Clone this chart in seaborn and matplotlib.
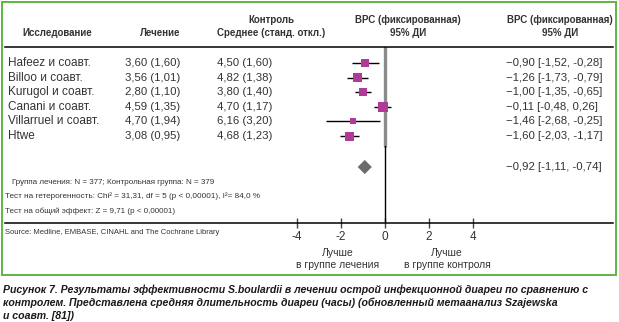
import numpy as np
import pandas as pd
import matplotlib
matplotlib.use("Agg")
import matplotlib.pyplot as plt
from matplotlib import font_manager
from matplotlib.patches import Rectangle
import seaborn as sns

# ---- data ----
studies = ["Hafeez и соавт.", "Billoo и соавт.", "Kurugol и соавт.",
           "Canani и соавт.", "Villarruel и соавт.", "Htwe"]
treatment = ["3,60 (1,60)", "3,56 (1,01)", "2,80 (1,10)", "4,59 (1,35)", "4,70 (1,94)", "3,08 (0,95)"]
control = ["4,50 (1,60)", "4,82 (1,38)", "3,80 (1,40)", "4,70 (1,17)", "6,16 (3,20)", "4,68 (1,23)"]
md = [-0.90, -1.26, -1.00, -0.11, -1.46, -1.60]
ci_lo = [-1.52, -1.73, -1.35, -0.48, -2.68, -2.03]
ci_hi = [-0.28, -0.79, -0.65, 0.26, -0.25, -1.17]
ci_text = ["\u22120,90 [-1,52, -0,28]", "\u22121,26 [-1,73, -0,79]", "\u22121,00 [-1,35, -0,65]",
           "\u22120,11 [-0,48, 0,26]", "\u22121,46 [-2,68, -0,25]", "\u22121,60 [-2,03, -1,17]"]
pooled_md = -0.92
pooled_lo = -1.11
pooled_hi = -0.74
pooled_text = "\u22120,92 [-1,11, -0,74]"
xticks = [-4, -2, 0, 2, 4]
xtick_labels = ["-4", "-2", "0", "2", "4"]

# ---- style ----
sns.set_style("white")
plt.rcParams["font.family"] = ["Liberation Sans", "DejaVu Sans"]
TXT = "#333333"
MAG = "#b03a98"
marker_px = [8, 9, 8, 10, 6, 9]

W, H = 619, 322
fig = plt.figure(figsize=(W / 100, H / 100), dpi=100)
fig.patch.set_facecolor("white")

def T(x, y, s, **kw):
    kw.setdefault("color", TXT)
    kw.setdefault("va", "center")
    kw.setdefault("fontsize", 8.2)
    return fig.text(x / W, 1 - y / H, s, **kw)

# forest axes
px0 = 385.0   # pixel of x=0
ppu = 22.0    # pixels per unit
ax_l, ax_r, ax_t, ax_b = 5, 613, 47, 223
row0, rstep = 63.0, 14.6
ax = fig.add_axes([ax_l / W, 1 - ax_b / H, (ax_r - ax_l) / W, (ax_b - ax_t) / H])
ax.set_xlim((ax_l - px0) / ppu, (ax_r - px0) / ppu)
ax.set_ylim((ax_b - row0) / rstep, (ax_t - row0) / rstep)
ax.set_facecolor("none")
for s in ["left", "right"]:
    ax.spines[s].set_visible(False)
for s in ["top", "bottom"]:
    ax.spines[s].set_color("black")
    ax.spines[s].set_linewidth(1.1)
ax.set_yticks([])
ax.set_xticks(xticks)
ax.set_xticklabels(xtick_labels)
ax.tick_params(axis="x", direction="inout", length=7, width=1, color="#444444",
               labelsize=8.5, labelcolor=TXT, pad=2, top=False, bottom=True)

# zero line
split = 1 - (146 - ax_t) / (ax_b - ax_t)
ax.axvline(0, ymin=split, ymax=1, color="#8a8a8a", lw=2.4, zorder=1)
ax.axvline(0, ymin=0, ymax=split, color="black", lw=1, zorder=1)

rows = np.arange(len(studies))
df = pd.DataFrame({"md": md, "row": rows, "lo": ci_lo, "hi": ci_hi})
ax.hlines(df["row"], df["lo"], df["hi"], color="black", lw=1, zorder=2)
sns.scatterplot(data=df, x="md", y="row", marker="s", color=MAG, edgecolor="none",
                s=[(p * 0.72) ** 2 for p in marker_px], ax=ax, zorder=3, legend=False)
pooled_row = (167 - row0) / rstep
pdf = pd.DataFrame({"md": [pooled_md], "row": [pooled_row]})
sns.scatterplot(data=pdf, x="md", y="row", marker="D", color="#6b6b6b", edgecolor="none",
                s=52, ax=ax, zorder=3, legend=False)
ax.set_xlabel("")
ax.set_ylabel("")

# headers
hb = dict(fontweight="bold", fontsize=7.0)
T(22, 33, "Исследование", ha="left", **hb)
T(180, 33, "Лечение", ha="right", **hb)
T(271, 20, "Контроль", ha="center", **hb)
T(271, 33, "Среднее (станд. откл.)", ha="center", **hb)
T(408, 20, "ВРС (фиксированная)", ha="center", **hb)
T(408, 33, "95% ДИ", ha="center", **hb)
T(560, 20, "ВРС (фиксированная)", ha="center", **hb)
T(560, 33, "95% ДИ", ha="center", **hb)

for i in range(len(studies)):
    y = row0 + i * rstep
    T(8, y, studies[i], ha="left", fontsize=8.5)
    T(180, y, treatment[i], ha="right")
    T(217, y, control[i], ha="left")
    T(506, y, ci_text[i], ha="left")
T(506, 167, pooled_text, ha="left")

T(12, 183, "Группа лечения: N = 377; Контрольная группа: N = 379", ha="left", fontsize=5.8)
T(5, 196, "Тест на гетерогенность: Chi² = 31,31, df = 5 (p < 0,00001), I²= 84,0 %", ha="left", fontsize=5.9)
T(5, 211, "Тест на общий эффект: Z = 9,71 (p < 0,00001)", ha="left", fontsize=5.8)
T(5, 232, "Source: Medline, EMBASE, CINAHL and The Cochrane Library", ha="left", fontsize=5.5)

T(338, 253, "Лучше", ha="center", fontsize=7.5)
T(338, 265, "в группе лечения", ha="center", fontsize=7.5)
T(447, 253, "Лучше", ha="center", fontsize=7.5)
T(447, 265, "в группе контроля", ha="center", fontsize=7.5)

# border
fig.patches.append(Rectangle((1.5 / W, 1 - 275 / H), (616 - 1.5) / W, (275 - 1.5) / H,
                             transform=fig.transFigure, fill=False, edgecolor="#5db544", lw=1.4))

cap = dict(fontweight="bold", fontstyle="italic", fontsize=8.0, color="#1a1a1a", ha="left")
c1 = T(3, 290, "Рисунок 7. Результаты эффективности S.boulardii в лечении острой инфекционной диареи по сравнению с", **cap)
c2 = T(3, 303, "контролем. Представлена средняя длительность диареи (часы) (обновленный метаанализ Szajewska", **cap)
c3 = T(3, 316, "и соавт. [81])", **cap)

# fit caption width to the reference line length
fig.canvas.draw()
r = fig.canvas.get_renderer()
w1 = c1.get_window_extent(r).width
new = 8.0 * (589.0 / w1)
for c in (c1, c2, c3):
    c.set_fontsize(new)

fig.savefig("out.png", dpi=100, facecolor="white")
